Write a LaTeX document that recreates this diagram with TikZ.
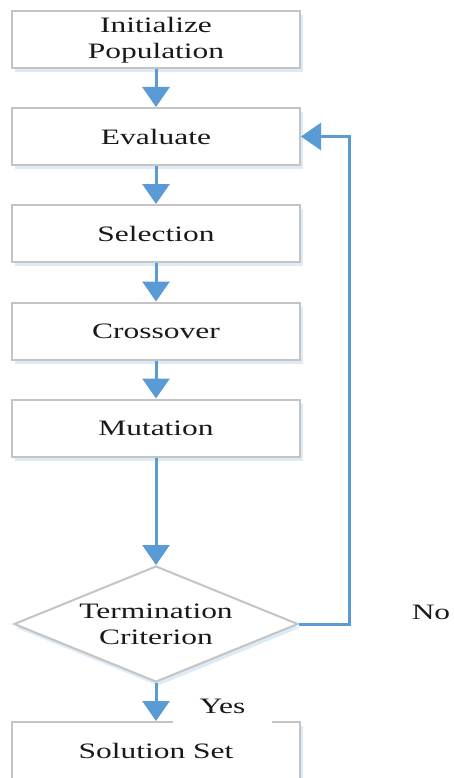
\documentclass[tikz,border=0pt]{standalone}
\usepackage{fontspec}
\setmainfont{Liberation Serif}[FakeStretch=1.43]
\usetikzlibrary{arrows.meta,shapes.geometric,shadows}
\definecolor{flowblue}{HTML}{5B9BD5}
\definecolor{boxgray}{HTML}{C4C4C4}
\definecolor{haze}{HTML}{DDEBF7}
\begin{document}
\begin{tikzpicture}[x=1pt,y=-1pt,
  every node/.style={font=\fontsize{22}{26}\selectfont, text=black!90},
  stepbox/.style={draw=boxgray, line width=2pt, fill=white, minimum width=288pt, minimum height=57pt, inner sep=0pt, align=center,
    drop shadow={shadow xshift=3pt, shadow yshift=-4pt, fill=haze, opacity=1}},
  decision/.style={diamond, draw=boxgray, line width=2pt, fill=white, shape aspect=2.45, minimum width=284pt, minimum height=116pt, inner sep=0pt, align=center,
    drop shadow={shadow xshift=2pt, shadow yshift=-4pt, fill=haze, opacity=1}},
  flow/.style={draw=flowblue, line width=3pt, -{Triangle[width=27pt,length=20pt]}},
  lbl/.style={inner sep=2pt}]
\useasboundingbox (0,0) rectangle (453,778);
\node[stepbox] (init) at (156,40) {Initialize\\Population};
\node[stepbox] (eval) at (156,136.5) {Evaluate};
\node[stepbox] (sel) at (156,233.5) {Selection};
\node[stepbox] (cross) at (156,331) {Crossover};
\node[stepbox] (mut) at (156,428) {Mutation};
\node[decision] (cond) at (156,624) {Termination\\Criterion};
\node[stepbox] (sol) at (156,750.5) {Solution Set};
\node[fill=white, minimum width=99pt, minimum height=34pt, inner sep=0pt] (yes) at (222.5,706) {Yes};
\node[lbl] (no) at (431,612) {No};
\coordinate (fb) at (349,624);
\draw[flow] (init.south) -- (eval.north);
\draw[flow] (eval.south) -- (sel.north);
\draw[flow] (sel.south) -- (cross.north);
\draw[flow] (cross.south) -- (mut.north);
\draw[flow] (mut.south) -- (cond.north);
\draw[flow] (cond.south) -- (sol.north);
\draw[flow] (cond.east) -- (fb) |- (eval.east);
\end{tikzpicture}
\end{document}
